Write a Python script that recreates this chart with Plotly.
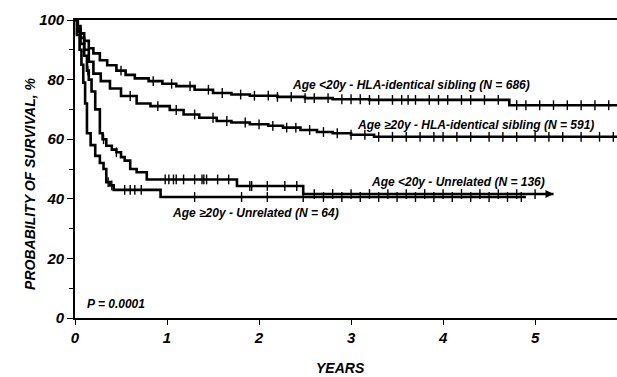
import numpy as np
import plotly.graph_objects as go

# Kaplan-Meier survival estimates (years, % surviving)
sib_young_t = [0, 0.03, 0.06, 0.1, 0.15, 0.2, 0.27, 0.35, 0.45, 0.55, 0.65, 0.8, 0.95,
               1.1, 1.3, 1.5, 1.7, 1.9, 2.2, 2.5, 2.8, 3.2, 4.72, 5.89]
sib_young_s = [100, 98, 95.5, 93, 90.5, 88.8, 86.5, 84.8, 83, 81.6, 80.4, 79.5, 78.6,
               77.8, 76.6, 75.5, 75, 74.6, 74.2, 73.8, 73.4, 73.2, 71.4, 71.4]
sib_young_cens = [0.5, 0.85, 1.05, 1.25, 1.45, 1.6, 1.8, 1.95, 2.1, 2.2, 2.35, 2.5, 2.6,
                  2.75, 2.9, 3.0, 3.1, 3.2, 3.3, 3.45, 3.55, 3.62, 3.7, 3.85, 3.95, 4.05,
                  4.2, 4.3, 4.45, 4.6, 4.8, 4.9, 5.05, 5.2, 5.35, 5.5, 5.65, 5.8]

sib_adult_t = [0, 0.03, 0.06, 0.1, 0.15, 0.2, 0.28, 0.38, 0.5, 0.67, 0.82, 1.03, 1.18,
               1.35, 1.54, 1.7, 1.9, 2.1, 2.26, 2.45, 2.63, 2.8, 3.0, 3.25, 5.89]
sib_adult_s = [100, 97, 94, 90, 86, 82, 79.5, 77, 74.5, 72, 71.1, 69.8, 68.3,
               67.2, 66.1, 65.6, 65, 64.5, 63.9, 63.1, 62.4, 62, 61.5, 60.8, 60.8]
sib_adult_cens = [0.6, 0.9, 1.1, 1.3, 1.5, 1.65, 1.85, 2.0, 2.15, 2.3, 2.4, 2.55, 2.7,
                  2.85, 3.0, 3.15, 3.3, 3.45, 3.6, 3.75, 3.9, 4.0, 4.15, 4.3, 4.5, 4.65,
                  4.8, 5.0, 5.15, 5.3, 5.5, 5.7, 5.85]

unrel_young_t = [0, 0.03, 0.06, 0.1, 0.13, 0.15, 0.18, 0.22, 0.27, 0.3, 0.34, 0.4, 0.45,
                 0.5, 0.54, 0.6, 0.67, 0.78, 1.76, 2.48, 5.2]
unrel_young_s = [100, 96, 92, 88, 83, 80, 76, 70, 62, 60, 57.8, 56.5, 55.6,
                 54, 52.8, 50, 48.9, 46.5, 44.3, 41.6, 41.6]
unrel_young_cens = [0.14, 0.31, 0.45, 0.98, 1.02, 1.07, 1.1, 1.18, 1.3, 1.38, 1.4, 1.43,
                    1.55, 1.67, 1.9, 1.92, 2.09, 2.28, 2.41, 2.6, 2.8, 3.0, 3.2, 3.4, 3.6,
                    3.8, 4.0, 4.2, 4.4, 4.6, 4.8, 5.0]

unrel_adult_t = [0, 0.02, 0.05, 0.07, 0.09, 0.11, 0.13, 0.17, 0.22, 0.27, 0.31, 0.34,
                 0.38, 0.42, 0.93, 4.9]
unrel_adult_s = [100, 95, 90, 85, 79, 72, 62, 58, 54.4, 52, 50, 45.6,
                 44.5, 43, 40.6, 40.6]
unrel_adult_cens = [0.36, 0.4, 0.54, 0.6, 0.65, 0.72, 1.3, 1.81, 2.09, 2.48, 2.7, 2.9,
                    3.1, 3.3, 3.5, 3.7, 3.9, 4.1, 4.3, 4.5, 4.7, 4.85]

x_ticks = [0, 1, 2, 3, 4, 5]
y_ticks = [0, 20, 40, 60, 80, 100]

LBL_FONT = "Liberation Sans, Arial"
AX_FONT = "Liberation Sans, Arial"

fig = go.Figure()


def add_curve(t, s, cens):
    t = np.asarray(t, float)
    s = np.asarray(s, float)
    fig.add_trace(go.Scatter(x=t, y=s, mode="lines", line=dict(color="black", width=2.6, shape="hv"),
                             hoverinfo="skip", showlegend=False))
    c = np.asarray(cens, float)
    idx = np.searchsorted(t, c, side="right") - 1
    fig.add_trace(go.Scatter(x=c, y=s[idx], mode="markers",
                             marker=dict(symbol="line-ns-open", size=7, color="black",
                                         line=dict(color="black", width=1.4)),
                             hoverinfo="skip", showlegend=False))


add_curve(sib_young_t, sib_young_s, sib_young_cens)
add_curve(sib_adult_t, sib_adult_s, sib_adult_cens)
add_curve(unrel_young_t, unrel_young_s, unrel_young_cens)
add_curve(unrel_adult_t, unrel_adult_s, unrel_adult_cens)

# arrowhead at the end of the <20y unrelated curve
fig.add_trace(go.Scatter(x=[unrel_young_t[-1]], y=[unrel_young_s[-1]], mode="markers",
                         marker=dict(symbol="arrow-right", size=8, color="black"),
                         hoverinfo="skip", showlegend=False))

labels = [
    (2.34, 78.3, "Age &lt;20y - HLA-identical sibling (N = 686)"),
    (3.04, 64.8, "Age ≥20y - HLA-identical sibling (N = 591)"),
    (3.2, 45.6, "Age &lt;20y - Unrelated (N = 136)"),
    (1.03, 35.2, "Age ≥20y - Unrelated (N = 64)"),
]
for x, y, txt in labels:
    fig.add_annotation(x=x, y=y, text=txt, showarrow=False, xanchor="left", yanchor="middle",
                       font=dict(family=LBL_FONT, size=12, color="black", style="italic", weight="bold"))

fig.add_annotation(x=0.11, y=4.7, text="P = 0.0001", showarrow=False, xanchor="left",
                   yanchor="middle",
                   font=dict(family=LBL_FONT, size=12, color="black", style="italic", weight="bold"))

fig.add_annotation(xref="paper", yref="paper", x=-55 / 542, y=0.45, textangle=-90,
                   text="PROBABILITY OF SURVIVAL, %", showarrow=False,
                   font=dict(family=AX_FONT, size=14, color="black", style="italic", weight="bold"))
fig.add_annotation(xref="x", yref="paper", x=2.88, y=-50 / 298, yanchor="middle",
                   text="YEARS", showarrow=False,
                   font=dict(family=AX_FONT, size=14, color="black", style="italic", weight="bold"))

fig.update_xaxes(range=[0, 5.89], tickvals=x_ticks, ticks="outside", ticklen=5, tickwidth=1.2,
                 tickcolor="black", showline=True, linecolor="black", linewidth=1.6, mirror=True,
                 showgrid=False, zeroline=False,
                 tickfont=dict(family=AX_FONT, size=15, color="black", style="italic", weight="bold"))
fig.update_yaxes(range=[0, 100], tickvals=y_ticks, ticks="outside", ticklen=6, tickwidth=1.2,
                 tickcolor="black", showline=True, linecolor="black", linewidth=1.6,
                 showgrid=False, zeroline=False,
                 minor=dict(tickvals=[10, 30, 50, 70, 90], ticks="outside", ticklen=4,
                            tickcolor="black", tickwidth=1.2),
                 tickfont=dict(family=AX_FONT, size=15, color="black", style="italic", weight="bold"))

fig.update_layout(width=617, height=377, margin=dict(l=75, r=0, t=20, b=59),
                  paper_bgcolor="white", plot_bgcolor="white")

fig.write_html("out.html")
